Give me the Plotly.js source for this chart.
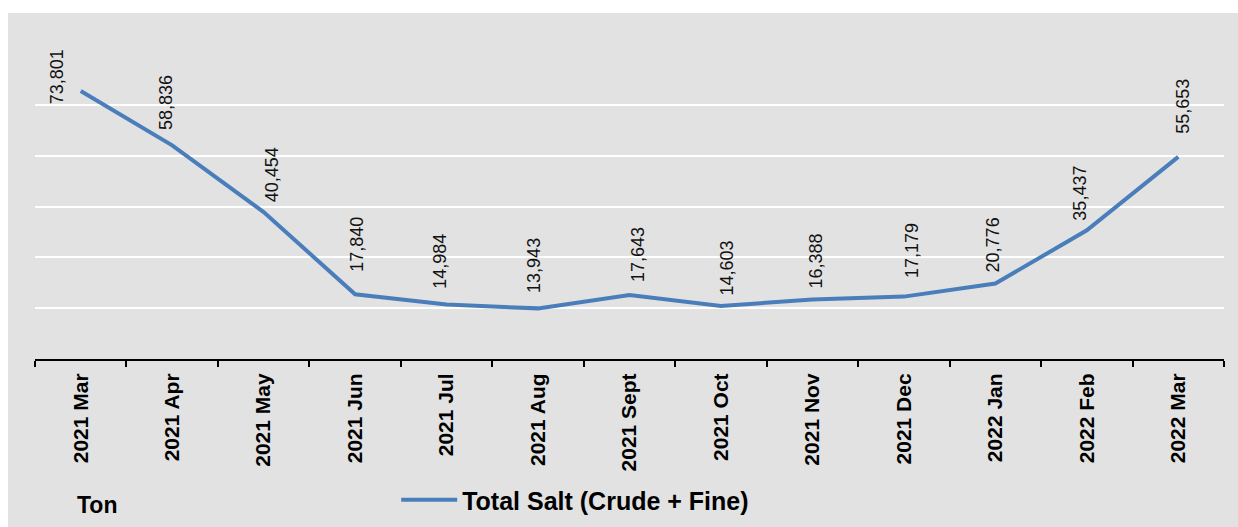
<!DOCTYPE html>
<html>
<head>
<meta charset="utf-8">
<script src="https://cdn.plot.ly/plotly-3.0.1.min.js"></script>
<style>
  html, body { margin: 0; padding: 0; background: #ffffff; width: 1238px; height: 527px; overflow: hidden; }
  #chart { position: absolute; left: 8px; top: 13px; width: 1230px; height: 514px; }
</style>
</head>
<body>
<div id="chart"></div>
<script>
// ---- data ----
const months = ["2021 Mar", "2021 Apr", "2021 May", "2021 Jun", "2021 Jul", "2021 Aug",
                "2021 Sept", "2021 Oct", "2021 Nov", "2021 Dec", "2022 Jan", "2022 Feb", "2022 Mar"];
const totalSalt = [73801, 58836, 40454, 17840, 14984, 13943, 17643, 14603, 16388, 17179, 20776, 35437, 55653];
const seriesName = "Total Salt (Crude + Fine)";
const unitLabel = "Ton";

// ---- styling ----
const font = "'Liberation Sans', Arial, sans-serif";
const bg = "#e2e2e2";

// per-label nudges [dx, gap] (pixels), mimicking the reference label placement
const labelNudge = [[-26, -13], [-8, 15], [6, 10], [0, 22], [-8, 16], [-6, 15], [7, 13],
                    [5, 11], [2, 11], [6, 19], [-4, 11], [-9, 10], [3, 23]];

const fmt = v => v.toLocaleString('en-US');

const annotations = months.map((m, i) => ({
  x: m, y: totalSalt[i], xref: 'x', yref: 'y',
  text: fmt(totalSalt[i]), textangle: -90, showarrow: false,
  xanchor: 'center', yanchor: 'bottom',
  xshift: labelNudge[i][0] + 2, yshift: labelNudge[i][1] - 2,
  font: { family: font, size: 18, color: '#111111' }
}));

annotations.push({
  xref: 'paper', yref: 'paper', x: 0, y: 0,
  text: '<b>' + unitLabel + '</b>', showarrow: false,
  xanchor: 'left', yanchor: 'middle',
  xshift: 40, yshift: -146,
  font: { family: font, size: 23, color: '#000000' }
});

const trace = {
  x: months, y: totalSalt, type: 'scatter', mode: 'lines',
  name: seriesName,
  line: { color: '#4a7ebb', width: 4 },
  hoverinfo: 'skip'
};

const layout = {
  width: 1230, height: 514,
  margin: { l: 27, r: 14, t: 41, b: 168, autoexpand: false },
  paper_bgcolor: bg, plot_bgcolor: bg,
  showlegend: true,
  legend: {
    orientation: 'h', xref: 'container', yref: 'container',
    x: 0.3156, y: 0.0525, xanchor: 'left', yanchor: 'middle',
    bgcolor: 'rgba(0,0,0,0)', itemwidth: 56,
    font: { family: font, size: 25, color: '#000000', weight: 'bold' }
  },
  xaxis: {
    type: 'category', range: [-0.5, months.length - 0.5], autorange: false,
    showgrid: false, zeroline: false, automargin: false,
    showline: true, linecolor: '#000000', linewidth: 2,
    ticks: 'outside', tickson: 'boundaries', ticklen: 6, tickwidth: 2, tickcolor: '#000000',
    tickangle: -90, ticklabelstandoff: 4,
    tickfont: { family: font, size: 21, color: '#000000', weight: 'bold' },
    fixedrange: true
  },
  yaxis: {
    range: [0, 84000], autorange: false, dtick: 14000, tick0: 0, automargin: false,
    showgrid: true, gridcolor: '#ffffff', gridwidth: 2,
    zeroline: false, showline: false, showticklabels: false, ticks: '',
    fixedrange: true
  },
  annotations: annotations
};

Plotly.newPlot('chart', [trace], layout, { displayModeBar: false, staticPlot: true });
</script>
</body>
</html>
